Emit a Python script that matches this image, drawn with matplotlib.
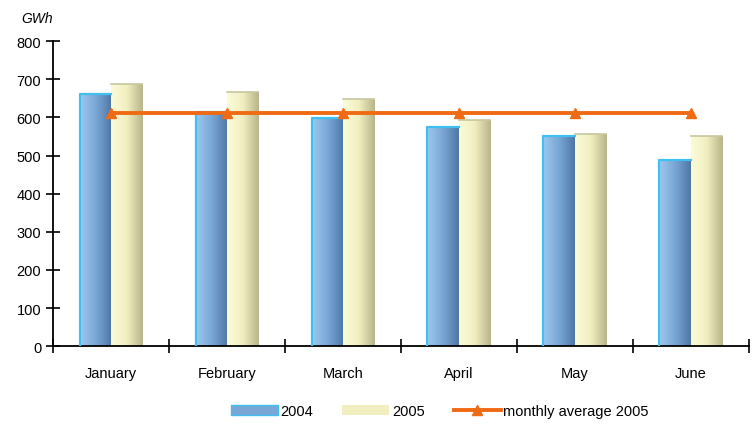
import numpy as np
import matplotlib
matplotlib.use("Agg")
import matplotlib.pyplot as plt
from matplotlib.colors import LinearSegmentedColormap
from matplotlib.patches import Patch
from matplotlib.lines import Line2D

months = ["January", "February", "March", "April", "May", "June"]
gwh_2004 = [661, 614, 598, 575, 551, 488]
gwh_2005 = [688, 667, 648, 593, 556, 551]
avg_2005 = [613, 613, 613, 613, 613, 613]

plt.rcParams["font.family"] = ["Liberation Sans", "DejaVu Sans"]

fig = plt.figure(figsize=(7.52, 4.27), dpi=100)
ax = fig.add_axes([0.0705, 0.187, 0.925, 0.714])

x = np.arange(len(months))
w = 0.27

blue_cmap = LinearSegmentedColormap.from_list("b", ["#9cc8ee", "#7aa6d6", "#4f77a6"])
yellow_cmap = LinearSegmentedColormap.from_list("y", ["#fbfbd8", "#f1efc0", "#b8b58a"])

# bars with a left-to-right gradient clipped to each bar
grad = np.linspace(0, 1, 64).reshape(1, -1)
bars04 = ax.bar(x - w / 2, gwh_2004, w, color="none", edgecolor="none")
bars05 = ax.bar(x + w / 2, gwh_2005, w, color="none", edgecolor="none")
for bars, cmap in [(bars04, blue_cmap), (bars05, yellow_cmap)]:
    for b in bars:
        x0, y0 = b.get_x(), b.get_y()
        x1, y1 = x0 + b.get_width(), y0 + b.get_height()
        im = ax.imshow(grad, cmap=cmap, extent=[x0, x1, y0, y1],
                       aspect="auto", zorder=2, interpolation="bicubic")
        im.set_clip_path(b)
for b in bars04:
    x0, h = b.get_x(), b.get_height()
    ax.plot([x0, x0, x0 + b.get_width()], [0, h, h], color="#3fc0f0", lw=1.6, zorder=3)
for b in bars05:
    x0, h = b.get_x(), b.get_height()
    ax.plot([x0, x0 + b.get_width()], [h, h], color="#c8c6a0", lw=1.2, zorder=3)

ax.plot(x, avg_2005, color="#f06a14", lw=2.8, marker="^", markersize=7, zorder=4)

ax.set_xlim(-0.5, len(months) - 0.5)
ax.set_ylim(0, 800)
ax.set_yticks(range(0, 801, 100))
ax.set_xticks(np.arange(-0.5, len(months), 1))
ax.set_xticklabels([])
ax.set_xticks(x, minor=True)
ax.set_xticklabels(months, minor=True)
ax.tick_params(axis="x", which="minor", length=0, pad=14, labelsize=10.5)
ax.tick_params(axis="x", which="major", direction="inout", length=10, width=1.2)
ax.tick_params(axis="y", direction="inout", length=10, width=1.2, labelsize=10.5)

for s in ["top", "right"]:
    ax.spines[s].set_visible(False)
for s in ["left", "bottom"]:
    ax.spines[s].set_linewidth(1.3)

fig.text(0.028, 0.945, "GWh", fontsize=10, style="italic")

handles = [
    Patch(facecolor="#7aa6d6", edgecolor="#3fc0f0", label="2004"),
    Patch(facecolor="#f1efc0", edgecolor="none", label="2005"),
    Line2D([0], [0], color="#f06a14", lw=2.8, marker="^", markersize=7,
           label="monthly average 2005"),
]
fig.legend(handles=handles, loc="center", bbox_to_anchor=(0.585, 0.035), ncol=3,
           frameon=False, fontsize=10.5, handlelength=3.2, columnspacing=2.0,
           handletextpad=0.2)

plt.savefig("out.png", dpi=100)
